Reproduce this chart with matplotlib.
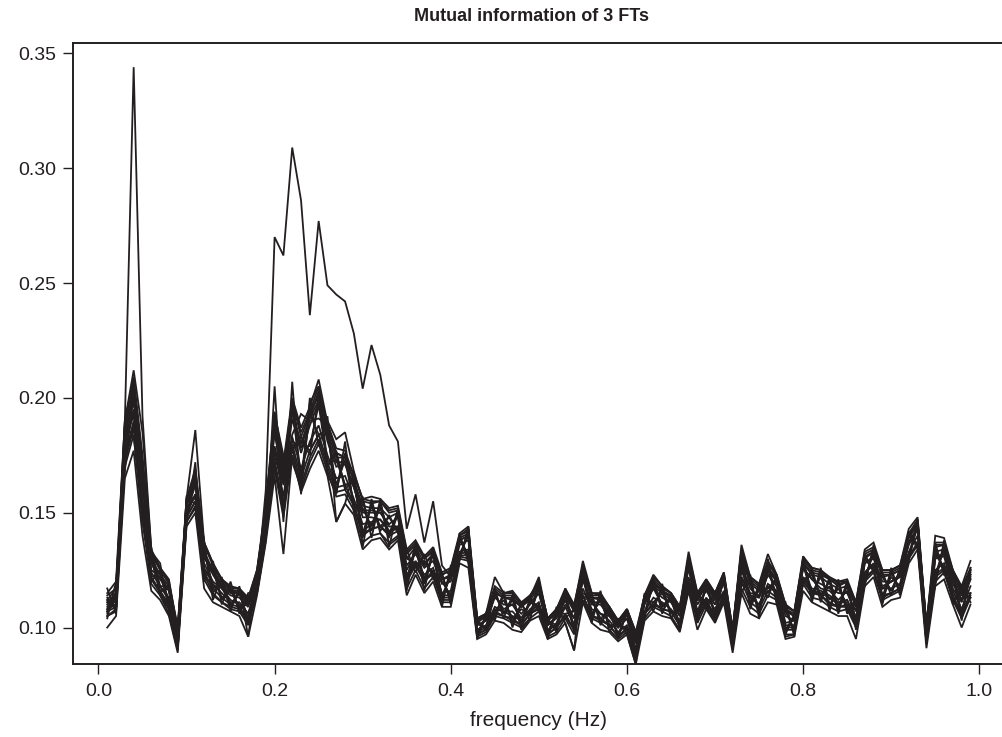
import numpy as np
import matplotlib
matplotlib.use("Agg")
import matplotlib.pyplot as plt

plt.rcParams['font.family'] = ['Liberation Sans', 'DejaVu Sans']

# frequencies 0.01 .. 0.99 Hz
freq = [i / 100 for i in range(1, 100)]

# central course of the bundle (values x 1000)
mid = [109,112,180,197,160,126,120,114,96,151,
       160,129,121,116,113,112,107,120,147,181,
       160,187,173,184,193,178,168,168,159,147,
       148,148,144,146,125,131,124,128,117,118,
       135,136,100,102,111,109,108,105,109,113,
       100,103,110,103,119,109,108,104,99,103,
       92,109,115,112,110,104,124,108,115,109,
       118,95,125,115,112,121,117,103,102,124,
       119,118,115,113,114,105,126,129,118,119,
       121,135,141,97,128,130,118,110,119]

# the single outlying curve (values x 1000)
outlier = [108,113,190,344,192,134,118,112,95,150,
           158,128,120,117,112,110,106,118,160,270,
           262,309,286,236,277,249,245,242,228,204,
           223,210,188,181,143,158,137,155,127,122,
           138,140,101,103,114,108,110,104,111,115,
           101,105,112,101,121,111,106,105,100,104,
           90,111,117,110,112,105,126,107,117,110,
           120,93,127,114,113,123,118,102,103,126,
           121,117,116,112,116,104,128,131,117,120,
           122,137,144,96,130,131,117,111,121]

# individual curves of the bundle, as deviations from mid (x 1000)
line01 = [1,2,3,4,5,2,1,2,1,2, 3,2,2,1,1,1,2,1,3,4, 3,4,3,4,5,3,2,3,2,3, 2,2,1,2,2,1,2,1,2,2,
          1,2,1,1,2,1,2,1,1,2, 1,1,2,1,2,1,2,1,1,1, 1,1,2,1,1,1,2,2,1,1, 2,1,2,2,1,2,1,2,1,2,
          2,1,2,2,1,2,2,1,2,1, 2,1,2,1,2,2,1,2,2]
line02 = [-1,-2,-3,-3,-4,-2,-2,-1,-1,-2, -2,-3,-2,-1,-2,-1,-1,-2,-2,-4, -3,-4,-4,-3,-5,-3,-3,-2,-3,-2,
          -2,-1,-2,-2,-3,-2,-1,-2,-2,-2, -2,-2,-1,-1,-2,-2,-1,-2,-1,-2, -1,-2,-1,-2,-2,-1,-2,-1,-1,-2,
          -1,-2,-2,-1,-2,-1,-2,-2,-2,-1, -2,-1,-3,-2,-2,-2,-1,-2,-1,-2, -2,-2,-1,-2,-2,-1,-2,-2,-1,-2,
          -2,-2,-1,-1,-3,-2,-2,-2,-1]
line03 = [4,-3,6,8,10,4,-4,3,-3,4, 6,-5,4,-3,3,-3,3,-2,5,8, -8,9,-7,8,10,-6,7,-6,5,-6,
          5,-4,4,-4,5,-3,4,-4,3,-4, 4,-5,2,-2,4,-3,4,-3,3,-4, 2,-3,4,-4,5,-3,4,-3,2,-3,
          3,-3,4,-3,3,-3,4,-4,3,-3, 4,-2,5,-4,4,-4,3,-4,3,-3, 4,-4,3,-4,4,-3,4,-3,4,-3,
          3,-3,4,-2,5,-4,4,-4,4]
line04 = [-3,4,-6,-7,-9,-4,4,-3,2,-3, -5,5,-4,3,-3,3,-3,2,-5,-7, 7,-8,8,-7,-9,6,-6,5,-5,5,
          -4,4,-4,3,-5,3,-4,4,-3,4, -3,4,-2,2,-4,3,-4,3,-3,4, -2,3,-4,4,-4,3,-4,3,-2,3,
          -3,3,-4,3,-3,3,-4,4,-3,3, -3,2,-5,4,-4,4,-3,4,-3,3, -4,4,-3,4,-4,3,-4,3,-4,3,
          -3,3,-4,2,-5,4,-4,4,-4]
line05 = [6,8,10,15,25,8,6,7,2,5, 26,8,7,5,4,5,3,4,6,10, 8,12,10,9,8,12,14,17,9,8,
          6,7,6,5,7,5,6,5,6,7, 5,6,3,4,11,6,7,5,4,9, 3,4,6,6,10,6,6,5,3,5,
          4,5,8,6,5,5,9,7,6,6, 6,4,11,7,7,11,6,7,5,7, 7,7,6,7,6,6,8,8,7,6,
          6,8,7,4,12,9,7,8,10]
line06 = [-9,-7,-15,-20,-20,-10,-8,-9,-7,-7, -10,-12,-10,-7,-6,-7,-11,-6,-10,-15,
          -28,-12,-14,-15,-16,-12,-22,-14,-10,-13, -10,-9,-10,-8,-11,-8,-9,-8,-8,-9,
          -7,-10,-5,-5,-8,-7,-9,-7,-6,-8, -5,-6,-8,-13,-8,-7,-9,-6,-5,-6,
          -8,-6,-8,-7,-6,-6,-8,-9,-7,-7, -7,-6,-10,-9,-8,-10,-7,-8,-6,-8,
          -8,-9,-8,-8,-9,-10,-8,-7,-9,-7, -8,-7,-7,-6,-10,-9,-8,-10,-9]
line07 = [3,5,7,10,12,6,5,5,4,3, 8,7,6,4,3,4,4,3,6,12, 10,11,12,10,12,9,8,6,5,4,
          3,2,0,-2,-3,-4,-3,-5,-5,-6, -4,-6,-3,-3,-5,-4,-5,-4,-3,-5, -3,-3,-5,-4,-5,-4,-5,-3,-3,-4,
          -4,-3,-5,-4,-3,-3,-5,-4,-3,-4, -3,-2,-3,0,2,4,3,5,3,4, 5,5,6,5,6,4,5,4,5,4,
          4,5,5,3,7,6,6,5,6]
line08 = [-4,-4,-8,-10,-12,-5,-5,-5,-4,-5, -7,-6,-6,-5,-4,-4,-5,-4,-7,-10,
          -10,-9,-11,-10,-11,-8,-9,-8,-6,-7, -5,-4,-3,-2,0,2,3,4,4,5,
          4,5,3,3,5,4,5,4,4,5, 3,4,5,5,6,4,5,4,3,4, 4,4,5,4,4,4,5,5,4,4,
          4,3,6,5,5,5,4,5,4,4, -3,-4,-5,-4,-5,-4,-5,-4,-5,-4, -4,-4,-5,-3,-6,-5,-5,-5,-5]
line09 = [2,1,-2,2,-5,3,-2,4,-2,1, -3,4,-3,2,-4,3,-4,3,-2,5, 5,-6,6,-5,4,-7,5,-6,4,-5,
          -3,5,-3,4,-4,5,-3,4,-4,5, 3,-4,2,-3,4,-3,5,-3,2,-4, 3,-2,4,-4,3,-4,5,-3,2,-4,
          4,-3,4,-3,2,-3,5,-4,4,-3, 3,-3,4,-4,5,-4,4,-5,3,-4, 4,-4,5,-4,5,-3,4,-4,5,-3,
          4,-4,3,-3,4,-4,5,-4,5]
line10 = [-2,0,2,-2,2,-1,2,-2,0,-1, 2,1,5,5,4,5,6,5,3,-2, 2,-3,20,6,-2,10,8,6,8,9,
          9,8,8,7,9,7,7,7,7,8, 6,8,4,4,7,6,8,6,5,7, 4,5,7,7,8,6,7,5,4,5,
          6,5,7,6,5,5,7,7,6,6, 6,4,9,7,7,8,6,7,5,6, 7,7,7,7,7,6,7,6,7,6,
          6,6,6,4,9,7,7,7,7]
line11 = [-4,-5,-10,-13,-14,-7,-6,-6,-5,-5, -8,-8,-7,-5,-5,-5,-6,-5,-8,-12,
          -12,-12,-13,-12,-13,-10,-11,-10,-8,-10, -8,-7,-7,-6,-8,-6,-7,-6,-6,-7,
          -5,-7,-4,-4,-6,-5,-6,-5,-5,-6, -4,-5,-6,-6,-7,-5,-6,-5,-4,-5,
          -6,-5,-6,-5,-5,-5,-6,-6,-5,-5, -5,-4,-8,-6,-6,-7,-5,-6,-5,-5,
          -6,-6,-6,-6,-6,-5,-6,-5,-6,-5, -5,-5,-5,-4,-8,-6,-6,-6,-6]
line12 = [5,5,10,12,15,7,6,6,4,5, 9,8,7,5,5,5,5,5,7,13, 12,13,14,12,15,11,10,9,7,9,
          7,7,7,6,8,6,6,6,6,7, 5,7,4,4,6,5,6,5,5,6, 4,5,6,6,7,5,6,5,4,5,
          5,5,6,5,5,5,6,6,5,5, 5,4,8,6,6,7,5,6,5,5, 6,6,6,6,6,5,6,5,6,5,
          5,5,5,4,8,6,6,6,6]
line13 = [8,-6,8,-14,-10,9,-6,-8,-6,6, -4,9,-9,6,-6,6,-11,4,-8,24, -14,20,-15,16,-14,14,-22,-14,9,-12,
          8,-7,-9,6,-9,6,-8,7,-8,9, -6,8,-5,4,-8,7,-8,6,-6,8, -5,6,-8,-13,9,-7,8,-6,5,-6,
          -8,6,-8,7,-6,6,-8,8,-7,7, -7,5,-10,8,-8,9,-7,8,-6,7, -8,8,-8,8,-8,7,-8,7,-8,7,
          -7,7,-7,5,-10,8,-8,8,-8]
line14 = [-2,3,4,-5,8,-6,5,-4,3,-4, 5,-6,5,-4,4,-4,5,-3,6,-9, 9,-10,10,-9,8,-8,9,-8,6,-8,
          6,-6,5,-5,6,-5,5,-5,5,-6, 4,-6,3,-3,6,-5,6,-5,4,-6, 3,-4,6,-5,6,-5,6,-4,3,-4,
          5,-4,6,-5,4,-4,6,-6,5,-5, 5,-3,7,-6,6,-6,5,-6,4,-5, 6,-6,6,-6,6,-5,6,-5,6,-5,
          5,-5,5,-3,7,-6,6,-6,6]
line15 = [3,-4,-5,6,-8,5,-5,5,-3,5, -6,6,-6,5,-4,4,-5,4,-6,9, -9,10,-10,9,-9,8,-9,8,-7,8,
          -6,6,-5,5,-6,5,-5,5,-5,6, -5,6,-3,3,-6,5,-6,5,-4,6, -3,4,-6,5,-6,5,-6,4,-3,4,
          -5,4,-6,5,-4,4,-6,6,-5,5, -5,3,-7,6,-6,6,-5,6,-4,5, -6,6,-6,6,-6,5,-6,5,-6,5,
          -5,5,-5,3,-7,6,-6,6,-6]
line16 = [0,2,5,7,9,3,3,2,1,2, 4,3,3,2,2,3,2,2,4,6, 6,7,5,7,6,5,4,4,2,1,
          0,-1,-2,-3,-2,-3,-4,-3,-3,-4, -3,-3,-2,-2,-3,-2,-3,-2,-2,-3, -2,-1,0,1,2,2,3,2,2,3,
          2,3,3,3,2,3,3,4,3,3, 2,1,0,-1,-2,-3,-2,-3,-2,-3, -3,-3,-2,-3,-2,-3,-2,-1,0,1,
          1,2,2,1,3,2,3,2,3]
line17 = [-5,8,-12,10,-15,7,8,-7,-5,-6, 12,-9,8,-6,7,-6,8,-5,-9,12, 15,-15,-12,14,12,-11,-10,13,-9,10,
          -9,8,-8,-7,9,-7,8,-7,7,-8, 6,-8,-4,3,-7,6,7,-6,-5,7, 4,-5,7,5,-8,6,-7,5,-4,5,
          6,-5,7,-6,5,-5,-7,7,-6,-6, -6,4,9,-7,7,-8,6,-7,-5,6, 7,-7,7,-7,7,-6,-7,6,-7,6,
          6,-6,6,-4,9,-7,7,-7,7]
line18 = [2,3,6,7,9,4,3,4,3,3, 5,4,4,3,3,3,4,3,5,8, 7,8,7,8,9,7,6,6,5,6,
          4,4,4,4,5,4,4,4,4,4, 3,4,2,3,4,4,4,4,3,4, 3,3,4,4,5,4,4,3,3,3,
          4,3,4,4,3,3,4,4,4,4, 4,3,5,4,4,5,4,4,3,4, 4,4,4,4,4,4,4,4,4,4,
          4,4,4,3,5,4,4,4,4]
line19 = [-2,-3,-6,-8,-9,-4,-4,-4,-3,-3, -5,-5,-4,-3,-3,-3,-4,-3,-5,-8, -7,-7,-8,-7,-9,-6,-7,-6,-5,-6,
          -5,-4,-4,-4,-5,-4,-4,-4,-4,-5, -4,-4,-3,-3,-4,-4,-4,-4,-3,-4, -3,-3,-4,-4,-5,-4,-4,-3,-3,-3,
          -4,-3,-4,-4,-3,-3,-4,-4,-4,-4, -4,-3,-5,-4,-4,-5,-4,-4,-3,-4, -4,-4,-4,-4,-4,-4,-4,-4,-4,-4,
          -4,-4,-4,-3,-5,-4,-4,-4,-4]

bundle = [line01, line02, line03, line04, line05, line06, line07, line08, line09, line10,
          line11, line12, line13, line14, line15, line16, line17, line18, line19]

xticks = [0.0, 0.2, 0.4, 0.6, 0.8, 1.0]
xtick_labels = ["0.0", "0.2", "0.4", "0.6", "0.8", "1.0"]
yticks = [0.10, 0.15, 0.20, 0.25, 0.30, 0.35]
ytick_labels = ["0.10", "0.15", "0.20", "0.25", "0.30", "0.35"]

fig = plt.figure(figsize=(10.03, 7.37), dpi=100)
ax = fig.add_axes([0.0725, 0.0990, 0.9295, 0.8426])

line_color = "#231f20"
mid_arr = np.array(mid, dtype=float)
for dev in bundle:
    ax.plot(freq, (mid_arr + np.array(dev)) / 1000.0, color=line_color, lw=1.3,
            solid_joinstyle="miter")
ax.plot(freq, np.array(outlier) / 1000.0, color=line_color, lw=1.3, solid_joinstyle="miter")

ax.set_xlim(-0.0292, 1.0292)
ax.set_ylim(0.0841, 0.3545)

for s in ["left", "bottom", "top"]:
    ax.spines[s].set_linewidth(1.4)
    ax.spines[s].set_color(line_color)
ax.spines["right"].set_visible(False)

ax.set_xticks(xticks)
ax.set_xticklabels(xtick_labels)
ax.set_yticks(yticks)
ax.set_yticklabels(ytick_labels)
ax.tick_params(axis="both", direction="out", length=7.5, width=1.0,
               labelsize=14, colors=line_color)
ax.tick_params(axis="x", pad=6)
ax.tick_params(axis="y", pad=4)

ax.set_xlabel("frequency (Hz)", fontsize=15, color=line_color, labelpad=8)
fig.text(0.530, 0.977, "Mutual information of 3 FTs", ha="center", va="center",
         fontsize=13, fontweight="bold", color=line_color)

fig.savefig("out.png", dpi=100)
